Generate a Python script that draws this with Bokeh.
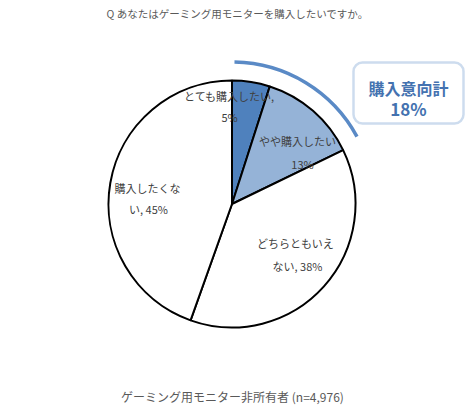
import math
from bokeh.plotting import figure
from bokeh.models import Range1d, BoxAnnotation
from bokeh.core.properties import value
from bokeh.embed import file_html
from bokeh.resources import INLINE

# ---- data ----
categories = ["とても購入したい", "やや購入したい", "どちらともいえない", "購入したくない"]
values = [5, 13, 38, 45]
label_lines = [["とても購入したい,", "5%"], ["やや購入したい", "13%"],
               ["どちらともいえ", "ない, 38%"], ["購入したくな", "い, 45%"]]
colors = ["#4F81BD", "#95B3D7", "#FFFFFF", "#FFFFFF"]
title_text = "Q あなたはゲーミング用モニターを購入したいですか。"
footer_text = "ゲーミング用モニター非所有者 (n=4,976)"
callout_title = "購入意向計"
callout_value = f"{values[0] + values[1]}%"

W, H = 474, 413
FONT = value("Noto Sans CJK JP")

def px(X, Y):
    # image pixel -> data coords
    return X, H - Y

p = figure(width=W, height=H, output_backend="svg", toolbar_location=None,
           x_range=Range1d(0, W), y_range=Range1d(0, H),
           x_axis_type=None, y_axis_type=None, min_border=0,
           outline_line_color=None)
p.grid.visible = False
p.background_fill_color = "white"
p.border_fill_color = "white"

cx, cy = px(231.5, 203.5)
R = 123.5
total = sum(values)
cum = 0
starts, ends = [], []
for v in values:
    starts.append(math.pi / 2 - 2 * math.pi * cum / total)
    cum += v
    ends.append(math.pi / 2 - 2 * math.pi * cum / total)

p.wedge(x=[cx] * 4, y=[cy] * 4, radius=R, start_angle=starts, end_angle=ends,
        direction="clock", fill_color=colors, line_color="black", line_width=2)

# callout arc around the top-two slices
p.arc(x=cx, y=cy, radius=R + 18.5, start_angle=starts[0] + math.radians(-1),
      end_angle=ends[1] + math.radians(2.5), direction="clock",
      line_color="#5A8AC6", line_width=3.5)

# slice labels
label_pos = [[(229, 95), (229, 116)], [(297, 140), (302, 163)],
             [(295, 242), (297, 265)], [(147, 187), (148, 208)]]
for lines, poss in zip(label_lines, label_pos):
    for t, (X, Y) in zip(lines, poss):
        x, y = px(X, Y)
        p.text(x=[x], y=[y], text=[t], text_font=FONT, text_font_size=value("11px"),
               text_color="#404040", text_align="center", text_baseline="middle")

# callout box
bl, bt = px(353, 62)
br, bb = px(463, 123)
p.add_layout(BoxAnnotation(left=bl, right=br, top=bt, bottom=bb,
                           fill_color="white", fill_alpha=1, level="underlay",
                           line_color="#5A8AC6", line_width=2.5, border_radius=9))
x, y = px(408, 87)
p.text(x=[x], y=[y], text=[callout_title], text_font=FONT, text_font_size=value("16px"),
       text_font_style="bold", text_color="#4472B0", text_align="center", text_baseline="middle")
x, y = px(408, 108)
p.text(x=[x], y=[y], text=[callout_value], text_font=FONT, text_font_size=value("17px"),
       text_font_style="bold", text_color="#4472B0", text_align="center", text_baseline="middle")

# title and footer
x, y = px(237, 13)
p.text(x=[x], y=[y], text=[title_text], text_font=FONT, text_font_size=value("10.5px"),
       text_color="#595959", text_align="center", text_baseline="middle")
x, y = px(232, 396)
p.text(x=[x], y=[y], text=[footer_text], text_font=FONT, text_font_size=value("12px"),
       text_color="#595959", text_align="center", text_baseline="middle")

open("out.html", "w").write(file_html(p, INLINE))
